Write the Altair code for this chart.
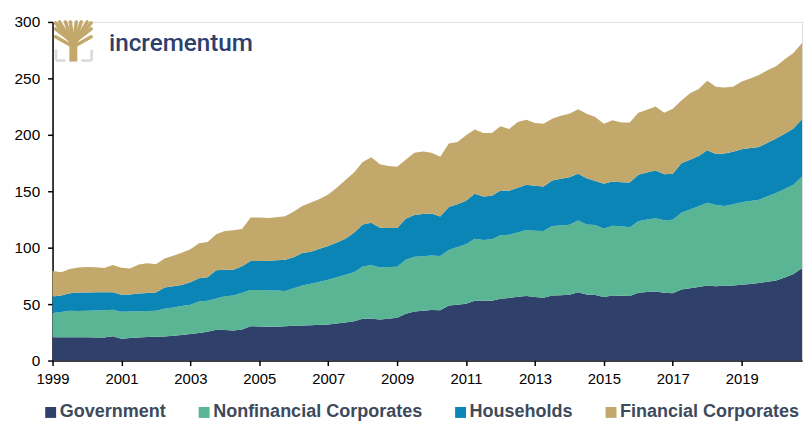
import altair as alt
import pandas as pd

# Quarterly data, 1999Q1 .. 2020Q4 (88 quarters)
government = [20.7, 20.7, 20.7, 20.7, 20.6, 20.5, 20.3, 21.6, 19.3, 19.9,
              20.5, 20.8, 21.1, 21.4, 21.9, 22.6, 23.4, 24.5, 25.5, 27.2,
              27.0, 26.6, 27.5, 30.4, 30.2, 30.0, 29.9, 30.3, 30.8, 31.1,
              31.3, 31.6, 32.0, 32.8, 33.8, 34.8, 37.1, 37.0, 36.3, 37.0,
              37.8, 41.5, 43.4, 44.2, 44.8, 44.6, 48.8, 49.5, 50.3, 53.0,
              53.0, 53.0, 54.7, 55.5, 56.5, 57.1, 56.2, 55.6, 57.6, 57.9,
              58.2, 60.6, 58.5, 58.0, 56.2, 57.6, 57.4, 57.1, 60.0, 60.7,
              61.2, 60.0, 59.7, 62.9, 64.0, 65.2, 66.4, 65.8, 66.2, 66.4,
              67.2, 67.9, 68.8, 69.8, 70.8, 73.5, 76.7, 81.7]
nonfinancial = [21.4, 22.3, 23.5, 23.2, 23.4, 23.8, 24.2, 23.4, 24.0, 23.6,
                23.1, 23.0, 22.9, 24.5, 25.1, 25.7, 26.0, 27.8, 27.5, 27.8,
                30.0, 31.0, 32.5, 32.2, 32.2, 32.1, 32.1, 31.4, 33.2, 35.3,
                36.7, 38.3, 39.5, 41.0, 42.2, 43.4, 46.3, 47.6, 46.2, 45.8,
                45.3, 47.7, 48.6, 48.3, 48.3, 48.1, 49.2, 51.0, 52.7, 55.0,
                53.8, 54.4, 56.2, 56.0, 57.0, 58.5, 58.8, 59.1, 61.5, 61.8,
                62.1, 63.5, 62.1, 62.0, 60.6, 61.8, 61.6, 61.1, 63.5, 64.3,
                64.9, 64.4, 65.0, 68.0, 69.8, 71.5, 73.5, 72.1, 70.8, 72.1,
                73.0, 73.4, 73.7, 75.7, 77.6, 78.5, 79.0, 81.3]
households = [14.7, 14.6, 15.5, 16.3, 16.3, 16.1, 16.0, 15.6, 14.9, 15.1,
              15.9, 16.1, 16.2, 18.7, 18.8, 18.7, 20.0, 20.6, 20.8, 24.9,
              23.5, 22.9, 23.5, 25.5, 25.8, 26.3, 26.8, 27.6, 27.5, 28.8,
              28.3, 29.1, 30.0, 30.7, 32.0, 35.1, 37.2, 37.5, 35.2, 34.7,
              34.3, 36.4, 37.0, 37.3, 37.1, 34.9, 38.1, 38.0, 38.5, 39.8,
              38.6, 38.6, 39.8, 38.9, 39.5, 40.1, 39.8, 39.5, 40.4, 41.3,
              42.2, 41.3, 41.0, 39.0, 39.8, 39.2, 39.0, 39.5, 41.0, 41.5,
              42.2, 40.7, 40.7, 43.9, 44.2, 44.5, 46.5, 45.0, 46.5, 46.5,
              46.9, 46.9, 46.8, 47.4, 48.3, 49.0, 49.8, 50.7]
financial = [22.5, 20.6, 21.4, 22.3, 22.5, 22.2, 21.5, 24.0, 24.0, 22.9,
             25.5, 26.2, 25.0, 25.8, 27.0, 28.5, 29.2, 31.0, 31.2, 31.9,
             34.2, 35.0, 33.0, 38.6, 38.5, 37.9, 38.2, 38.6, 40.5, 41.8,
             43.7, 44.1, 45.5, 48.5, 52.0, 53.2, 55.4, 57.9, 56.3, 54.9,
             54.4, 52.4, 55.1, 55.5, 53.9, 53.0, 56.2, 55.2, 58.1, 56.8,
             56.2, 55.6, 56.8, 54.8, 58.3, 57.7, 55.6, 55.7, 54.8, 55.9,
             56.2, 57.3, 57.1, 56.7, 53.3, 54.2, 53.0, 53.3, 55.0, 55.7,
             56.8, 54.4, 57.7, 55.5, 58.8, 59.4, 61.5, 59.7, 58.5, 57.6,
             60.2, 61.7, 63.6, 64.4, 64.1, 66.0, 67.0, 67.6]

series_names = ["Government", "Nonfinancial Corporates", "Households", "Financial Corporates"]
series_colors = ["#2F416A", "#5AB594", "#0B85B5", "#C2A86B"]
tick_years = [1999, 2001, 2003, 2005, 2007, 2009, 2011, 2013, 2015, 2017, 2019]
y_ticks = [0, 50, 100, 150, 200, 250, 300]

rows = []
for s_idx, (name, vals) in enumerate(zip(series_names, [government, nonfinancial, households, financial])):
    for i, v in enumerate(vals):
        rows.append({"t": 1999 + i / 4, "series": name, "value": v, "order": s_idx})
df = pd.DataFrame(rows)

FONT = "Liberation Sans"

area = alt.Chart(df).mark_area(opacity=1, interpolate="linear").encode(
    x=alt.X("t:Q",
            scale=alt.Scale(domain=[1999, 2020.75], nice=False, zero=False),
            axis=alt.Axis(values=tick_years, format="d", title=None, grid=False,
                          domainColor="black", domainWidth=1.5, tickColor="black",
                          tickWidth=1.5, tickSize=5, labelFontSize=15, labelColor="black",
                          labelFont=FONT, labelPadding=6, labelFlush=False)),
    y=alt.Y("value:Q", stack="zero",
            scale=alt.Scale(domain=[0, 300], nice=False),
            axis=alt.Axis(values=y_ticks, title=None, grid=False,
                          domainColor="black", domainWidth=1.5, tickColor="black",
                          tickWidth=1.5, tickSize=5, labelFontSize=15.5, labelColor="black",
                          labelFont=FONT, labelPadding=8)),
    color=alt.Color("series:N",
                    scale=alt.Scale(domain=series_names, range=series_colors),
                    legend=alt.Legend(title=None, orient="none", legendX=-11, legendY=385,
                                      direction="horizontal", symbolType="square",
                                      symbolSize=121, symbolStrokeWidth=0, symbolOpacity=1,
                                      labelFont=FONT, labelFontSize=18.2, labelFontWeight="bold",
                                      labelColor="#3D4A5C", labelOffset=0, columnPadding=29,
                                      labelLimit=400)),
    order=alt.Order("order:Q", sort="ascending"),
)

# Logo (decorative)
branch_df = pd.DataFrame({
    "x":  [21, 21, 21, 21, 21, 21, 21, 21, 21, 21, 21, 21],
    "y":  [23, 23, 23, 23, 23, 23, 23, 23, 21, 21, 25, 25],
    "x2": [3, 7, 13, 18, 24, 29, 35, 39, 3, 39, 3, 39],
    "y2": [1, 0, 0, 0, 0, 0, 0, 1, 7, 7, 15, 15],
})
branches = alt.Chart(branch_df).mark_rule(color="#C2A86B", strokeWidth=3.5, strokeCap="round").encode(
    x=alt.X("x:Q", scale=None), y=alt.Y("y:Q", scale=None),
    x2="x2:Q", y2="y2:Q")
trunk_df = pd.DataFrame({"x": [21], "y": [17], "x2": [21], "y2": [40]})
trunk = alt.Chart(trunk_df).mark_rule(color="#C2A86B", strokeWidth=8).encode(
    x=alt.X("x:Q", scale=None), y=alt.Y("y:Q", scale=None),
    x2="x2:Q", y2="y2:Q")
bracket_df = pd.DataFrame({
    "x":  [3.5, 3.5, 39.5, 29],
    "y":  [28, 39, 28, 39],
    "x2": [3.5, 13, 39.5, 39.5],
    "y2": [39, 39, 39, 39],
})
brackets = alt.Chart(bracket_df).mark_rule(color="#D9D9D9", strokeWidth=2.5).encode(
    x=alt.X("x:Q", scale=None), y=alt.Y("y:Q", scale=None),
    x2="x2:Q", y2="y2:Q")
logo_df = pd.DataFrame({"x": [57], "y": [29], "label": ["incrementum"]})
logo_text = alt.Chart(logo_df).mark_text(align="left", baseline="alphabetic", fontSize=24.5,
                                         font="Roboto", fontWeight=500, color="#2D3F6C").encode(
    x=alt.X("x:Q", scale=None), y=alt.Y("y:Q", scale=None), text="label:N")

chart = alt.layer(area, brackets, branches, trunk, logo_text).properties(
    width=757, height=342,
    padding={"left": 45, "top": 12, "right": 2, "bottom": 59},
    autosize=alt.AutoSizeParams(type="none"),
).configure_view(stroke=None).configure(font=FONT)

chart.save("out.html", embed_options={"renderer": "svg", "actions": False})
